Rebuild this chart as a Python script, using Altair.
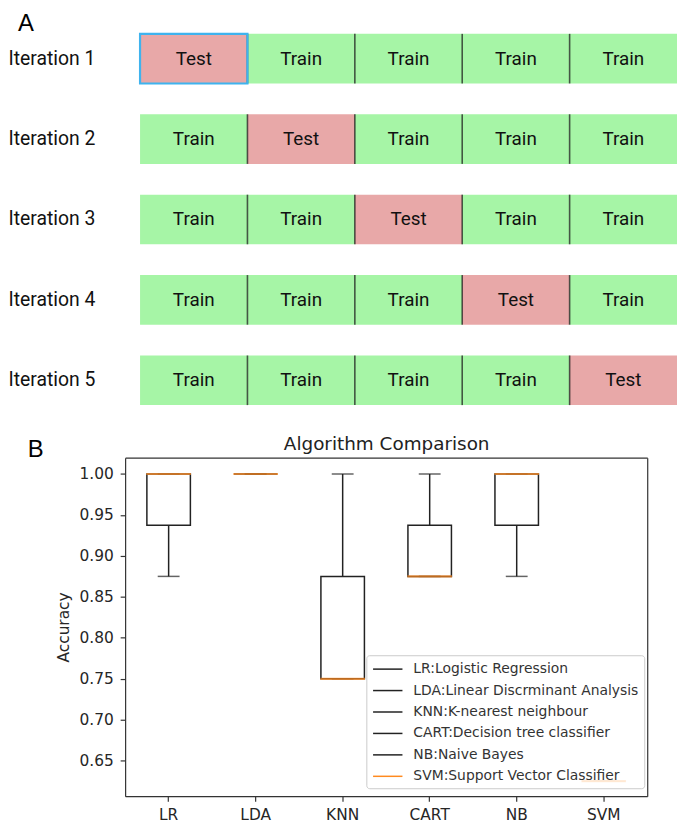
import altair as alt
import pandas as pd

# ---------------- Panel A : 5-fold cross validation scheme ----------------
iterations = ["Iteration 1", "Iteration 2", "Iteration 3", "Iteration 4", "Iteration 5"]
folds = [0, 1, 2, 3, 4]
test_fold = [0, 1, 2, 3, 4]          # fold used as the test set in each iteration
outlined = ["Iteration 1"]            # iteration whose test cell is outlined in blue

# ---------------- Panel B : algorithm comparison box plot ----------------
algos = ["LR", "LDA", "KNN", "CART", "NB", "SVM"]
algo_names = [
    "LR:Logistic Regression",
    "LDA:Linear Discrminant Analysis",
    "KNN:K-nearest neighbour",
    "CART:Decision tree classifier",
    "NB:Naive Bayes",
    "SVM:Support Vector Classifier",
]
q1 = [0.9375, 1.0, 0.75, 0.875, 0.9375, 0.625]
q3 = [1.0, 1.0, 0.875, 0.9375, 1.0, 0.625]
median = [1.0, 1.0, 0.75, 0.875, 1.0, 0.625]
whisker_lo = [0.875, 1.0, 0.75, 0.875, 0.875, 0.625]
whisker_hi = [1.0, 1.0, 1.0, 1.0, 1.0, 0.625]
y_ticks = [0.65, 0.70, 0.75, 0.80, 0.85, 0.90, 0.95, 1.00]
y_domain = [0.6067, 1.0199]

GREEN = "#a6f5a6"
PINK = "#e8a8a8"
BLUE = "#3fb3ee"
ORANGE = "#ff8a1f"
INK = "#222222"
FRAME = "#333333"

# ---------------- tables ----------------
cells = pd.DataFrame([
    {"iteration": it, "start": f, "end": f + 1, "mid": f + 0.5,
     "role": "Test" if f == test_fold[i] else "Train"}
    for i, it in enumerate(iterations) for f in folds
])
seps = pd.DataFrame([{"iteration": it, "pos": f} for it in iterations for f in folds[1:]])
outline = cells[(cells["role"] == "Test") & cells["iteration"].isin(outlined)]

box_df = pd.DataFrame({
    "algo": algos, "name": algo_names, "q1": q1, "q3": q3,
    "median": median, "lo": whisker_lo, "hi": whisker_hi,
})

# ---------------- Panel A chart ----------------
TOP_W, TOP_H = 556, 374
x_scale_top = alt.Scale(domain=[-0.139, 5], nice=False, zero=False)
y_top = alt.Y(
    "iteration:N", sort=iterations,
    scale=alt.Scale(paddingInner=0.383, paddingOuter=0),
    axis=alt.Axis(title=None, labelAlign="left", labelPadding=118, ticks=False, tickSize=0,
                  domain=False, grid=False, labelFont="Roboto", labelFontSize=19.5,
                  labelColor="#111111", labelBaseline="middle"),
)

rects = alt.Chart(cells).mark_rect().encode(
    x=alt.X("start:Q", scale=x_scale_top, axis=None),
    x2="end:Q",
    y=y_top,
    color=alt.Color("role:N", scale=alt.Scale(domain=["Train", "Test"], range=[GREEN, PINK]), legend=None),
)
sep_lines = alt.Chart(seps).mark_tick(color="#111111", thickness=1.6, size=50).encode(
    x=alt.X("pos:Q", scale=x_scale_top, axis=None),
    y=y_top,
)
outline_rect = alt.Chart(outline).mark_rect(fillOpacity=0, stroke=BLUE, strokeWidth=2.2).encode(
    x=alt.X("start:Q", scale=x_scale_top, axis=None),
    x2="end:Q",
    y=y_top,
)
cell_text = alt.Chart(cells).mark_text(font="Roboto", fontSize=19, color="#111111").encode(
    x=alt.X("mid:Q", scale=x_scale_top, axis=None),
    y=y_top,
    text="role:N",
)

panel_a = alt.layer(rects, sep_lines, outline_rect, cell_text).properties(
    width=TOP_W, height=TOP_H,
    title=alt.TitleParams("A", anchor="start", frame="bounds", font="Liberation Sans",
                          fontSize=24, fontWeight="normal", color="#000000",
                          offset=-3, dx=10),
    view=alt.ViewBackground(strokeOpacity=0),
)

# ---------------- Panel B chart ----------------
BOT_W, BOT_H = 526, 341
x_scale_b = alt.Scale(paddingInner=0, paddingOuter=0)
x_plain = alt.X("algo:N", sort=algos, scale=x_scale_b, axis=None)
x_bottom = alt.X(
    "algo:N", sort=algos, scale=x_scale_b,
    axis=alt.Axis(orient="bottom", title=None, labelAngle=0, labelFont="DejaVu Sans",
                  labelFontSize=15.5, labelColor="#262626", tickSize=5, tickColor=FRAME,
                  tickWidth=1.2, labelPadding=7, domain=True, domainColor=FRAME,
                  domainWidth=1.2, grid=False),
)
x_top_axis = alt.X(
    "algo:N", sort=algos, scale=x_scale_b,
    axis=alt.Axis(orient="top", labels=False, ticks=False, domain=True, domainColor=FRAME,
                  domainWidth=1.2, grid=False, title="Algorithm Comparison",
                  titleFont="DejaVu Sans", titleFontSize=18.5, titleFontWeight="normal",
                  titleColor="#222222", titlePadding=4),
)
y_scale_b = alt.Scale(domain=y_domain, nice=False, zero=False)
y_axis_left = alt.Axis(orient="left", title="Accuracy", values=y_ticks, format=".2f",
                       labelFont="DejaVu Sans", labelFontSize=15.5, labelColor="#262626",
                       tickSize=5, tickColor=FRAME, tickWidth=1.2, labelPadding=7,
                       domain=True, domainColor=FRAME, domainWidth=1.2, grid=False,
                       titleFont="DejaVu Sans", titleFontSize=15.5, titleFontWeight="normal",
                       titleColor="#262626", titlePadding=8)
y_axis_right = alt.Axis(orient="right", title=None, labels=False, ticks=False, domain=True,
                        domainColor=FRAME, domainWidth=1.2, grid=False)


def Y(field, axis=None):
    return alt.Y(f"{field}:Q", scale=y_scale_b, axis=axis)


base = alt.Chart(box_df)
whisk_lo = base.mark_rule(color=INK, strokeWidth=1.5).encode(x=x_plain, y=Y("lo"), y2="q1:Q")
whisk_hi = base.mark_rule(color=INK, strokeWidth=1.5).encode(x=x_plain, y=Y("q3"), y2="hi:Q")
cap_lo = base.mark_tick(color=INK, size=22, thickness=1.5).encode(x=x_plain, y=Y("lo"))
cap_hi = base.mark_tick(color=INK, size=22, thickness=1.5).encode(x=x_plain, y=Y("hi"))
boxes = base.mark_bar(width=alt.RelativeBandSize(0.5), fill="white", fillOpacity=0,
                      strokeWidth=1.5).encode(
    x=x_bottom,
    y=Y("q1", y_axis_left),
    y2="q3:Q",
    stroke=alt.Stroke(
        "name:N",
        scale=alt.Scale(domain=algo_names, range=[INK] * 5 + [ORANGE]),
        legend=alt.Legend(title=None, orient="none", legendX=243, legendY=199,
                          direction="vertical", labelFont="DejaVu Sans", labelFontSize=14,
                          labelColor="#333333", labelLimit=400, labelOffset=24.4,
                          symbolType="M-0.9,0H2.8", symbolSize=256, symbolStrokeWidth=1.5,
                          rowPadding=5.6, padding=5, fillColor="rgba(255,255,255,0.8)",
                          strokeColor="#cccccc", cornerRadius=3),
    ),
)
medians = base.mark_tick(color=ORANGE, size=45, thickness=2.2).encode(
    x=x_top_axis, y=Y("median", y_axis_right)
)

panel_b = alt.layer(whisk_lo, whisk_hi, cap_lo, cap_hi, boxes, medians).resolve_axis(
    x="independent", y="independent"
).properties(
    width=BOT_W, height=BOT_H,
    title=alt.TitleParams("B", anchor="start", frame="group", font="Liberation Sans",
                          fontSize=24, fontWeight="normal", color="#000000",
                          offset=0, dx=-98, dy=27),
    view=alt.ViewBackground(strokeOpacity=0),
)

chart = alt.vconcat(panel_a, panel_b, spacing=29).resolve_legend(
    stroke="independent"
).properties(padding=0)

chart.save("out.html", embed_options={"renderer": "svg", "actions": False})
